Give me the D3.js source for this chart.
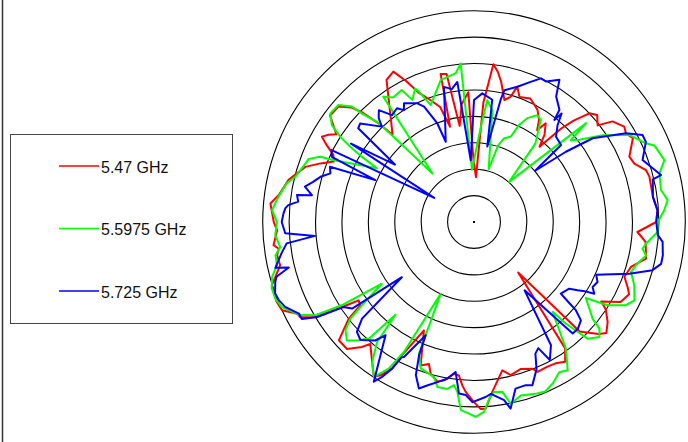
<!DOCTYPE html>
<html>
<head>
<meta charset="utf-8">
<script src="https://cdn.jsdelivr.net/npm/d3@7"></script>
<style>
  body { margin: 0; background: #fff; }
  svg { display: block; font-family: "Liberation Sans", Arial, sans-serif; }
</style>
</head>
<body>
<div id="chart"></div>
<script>
// legend / rings
const legendLabels = ["5.47 GHz", "5.5975 GHz", "5.725 GHz"];
const ringLevels = [-35, -30, -25, -20, -15, -10, -5, 0];

// 5.47 GHz : azimuth (deg, clockwise from top) and level (dB)
const redAngles = [
  2.5, 4.5, 7, 9, 11, 14, 16.3, 17.7, 20, 24.5,
  29.5, 32.5, 34.5, 36, 39, 41, 43, 44.5, 46.7, 49,
  52, 54, 57.6, 59.7, 62.2, 67.2, 70, 73.2, 75.5, 82,
  86.3, 90, 93.5, 96.6, 102, 106, 110, 113, 115, 118.6,
  122, 123.5, 126.8, 130, 132, 136, 138.8, 144.2, 146.9, 150,
  153.3, 157, 158.3, 162.3, 166.5, 169.2, 173.9, 176.4, 178, 180,
  182.8, 184.1, 185.6, 187.5, 190.7, 192.9, 195.9, 197.6, 200.4, 204.8,
  208.4, 209.2, 211.4, 212.9, 216, 220.4, 221.9, 225, 228.8, 232.3,
  233.8, 235.8, 237.2, 239, 241.3, 242.6, 245.3, 248, 252.6, 257.4,
  260.4, 262.2, 263.4, 267.6, 270, 275.2, 277.9, 282.8, 288.1, 290.9,
  293.3, 295.5, 297.9, 299.3, 301, 302.5, 306.5, 310.4, 313, 314.5,
  316, 317, 328.4, 331.8, 334.4, 337, 340.2, 343.6, 345.9, 347.3,
  349.5, 351.5, 354, 357.5, 359.5
];
const redDb = [
  -31.5, -17.3, -9.9, -11.2, -13, -16.2, -15.3, -13.1, -14.8, -14.3,
  -15.6, -17.1, -18.9, -16.9, -18.8, -21.1, -15.8, -13.1, -10, -9.1,
  -10.3, -7.6, -6.3, -6.7, -6, -8.1, -7.7, -6, -5.7, -5.8,
  -5.2, -5.5, -9, -7.3, -6.7, -9.1, -9.7, -8.4, -7.6, -8.4,
  -11.6, -10.1, -8.4, -7.3, -8.3, -11.2, -27.3, -10.5, -8.4, -9.1,
  -9.3, -9.2, -10.1, -10.8, -10.2, -11.4, -7.6, -4.6, -4.6, -5.9,
  -7.8, -9, -10.8, -11, -9.5, -9, -10.1, -11.8, -11, -17.4,
  -11.3, -8.2, -6, -5.1, -7.2, -9.7, -8.2, -6, -6, -10,
  -13.3, -13.6, -10.3, -5, -2.5, -2.3, 0, 0.3, 0.1, -2.4,
  -2.2, -2.7, -1.8, -2.7, -2.1, -1.3, -2.7, -4, -6.4, -8.9,
  -11.1, -10.5, -8.2, -7, -7.9, -9.1, -6.1, -6.3, -8.2, -10.5,
  -14.1, -17.4, -8.4, -7.7, -10.5, -13.5, -15.4, -17.3, -21.4, -11.3,
  -11.5, -21.6, -17.6, -15.4, -28.3
];

// 5.5975 GHz
const greenAngles = [
  4.3, 6.2, 9.3, 15.5, 17.5, 19.7, 23.3, 24.9, 27.2, 30.6,
  33.2, 38, 41.2, 48.6, 49.8, 52, 56, 60.7, 65.4, 67,
  72, 75.3, 80.3, 83.5, 86.4, 90, 93.1, 97.2, 99, 101,
  105, 107.7, 111.5, 116, 118.7, 121.9, 124.2, 129.2, 130.4, 132.5,
  135.7, 137.9, 138.8, 144, 147.7, 150.4, 154, 157.2, 159.8, 164.9,
  168.6, 170.5, 173.3, 175.1, 177, 179.5, 181.5, 184, 185.6, 187,
  189.1, 192.5, 194.5, 200, 202.7, 204.9, 208.3, 210.2, 212.9, 216,
  218.9, 220.3, 222, 224.3, 227, 229.9, 232, 233.4, 236.2, 237.8,
  239.5, 242.1, 246.1, 249, 251.9, 254.8, 257.6, 260.5, 262.6, 266.2,
  270, 273.4, 277.4, 281.7, 284.2, 289, 290.9, 293, 293.8, 299,
  300.2, 301.3, 302.5, 304.3, 307.1, 310.8, 313.4, 314.1, 315.9, 316.7,
  319.4, 324.1, 327, 331.3, 333.2, 336.2, 337.1, 339.7, 346.8, 353,
  355.2, 357.8
];
const greenDb = [
  -21.6, -16.8, -18.5, -29.6, -24.8, -23.2, -22.4, -19.7, -17.9, -16.5,
  -16.9, -21.1, -29.9, -11.7, -16, -14.7, -10.6, -6.3, -4.2, -2.9,
  -2.1, -3.7, -4.1, -3.1, -3.9, -5.2, -5.2, -7.2, -7.7, -6.8,
  -8.3, -8.8, -7.4, -6.2, -7.2, -10.2, -14.4, -11, -8.8, -7.8,
  -9.1, -14.1, -17.4, -10.4, -6.8, -7.3, -6, -5.2, -5.4, -6,
  -4.9, -7.4, -7.6, -6.4, -4, -3.1, -3.7, -4.3, -7.7, -8.9,
  -8, -8, -9.7, -10.5, -13, -25, -12.1, -7.9, -5.1, -7.2,
  -10.8, -17, -10.4, -8.7, -7.1, -8.2, -10.3, -13.6, -19, -10.5,
  -5.2, -2.5, -0.2, 0.3, 0.3, -0.4, -1.8, -1.9, -3, -2.3,
  -2.7, -1.7, -2.7, -3.8, -5.1, -6.2, -6.5, -8.4, -11, -19,
  -15.4, -12.6, -10, -7.4, -5.9, -6.1, -8.2, -10.5, -13.6, -17.8,
  -27.9, -10.7, -11.9, -11.5, -14.1, -12.4, -13.2, -16.4, -12.4, -11.6,
  -9.9, -30.1
];

// 5.725 GHz
const blueAngles = [
  0, 3.7, 8.5, 10, 12.3, 13, 17.8, 22, 25, 27.2,
  31, 33.2, 37.3, 38.2, 38.9, 40.8, 43.9, 48.5, 50, 52.6,
  54.8, 59.7, 62.7, 65, 69.8, 75.9, 76.6, 82, 86.3, 90,
  94.1, 96, 100, 102.6, 105.1, 108.4, 113.4, 115.9, 118.7, 120.8,
  122, 123.4, 125, 129.5, 130.2, 130.9, 132.6, 135.8, 138.5, 143.5,
  148, 151.2, 153, 155, 157, 160.3, 162.4, 166, 168.9, 170.4,
  174.4, 176.2, 180.5, 182.7, 185, 187, 189.7, 192.9, 196, 198.3,
  200.8, 202.4, 203.1, 207.4, 208.1, 209.2, 210.7, 212.1, 214.2, 218,
  219.8, 223.9, 226.8, 229.2, 232.6, 234.6, 236.9, 238.8, 240.6, 242.4,
  245.8, 248.2, 250.3, 253.2, 254.5, 256.2, 257, 260.8, 263.5, 265,
  266.6, 270, 272.6, 274.2, 275.2, 276.6, 278.7, 279.4, 281.8, 284,
  286.4, 288.7, 291, 293, 294.6, 296.8, 301.2, 302.5, 306, 309,
  310.9, 316, 317.5, 319.6, 322.5, 325.9, 327.9, 329.5, 334.5, 336.6,
  339.6, 340.6, 347.5, 350.5, 353.2, 357
];
const blueDb = [
  -16.9, -15.6, -16.6, -25.5, -16.3, -14.4, -13.1, -11.4, -10, -10.1,
  -8.6, -11.6, -13.3, -15.4, -13.6, -15.8, -17.6, -18, -24.9, -18.1,
  -12.5, -6.7, -4.1, -4.1, -6, -3.5, -5.2, -5.8, -5.2, -5.5,
  -5.1, -4.1, -3.7, -3.7, -5, -9, -14.8, -14, -14.4, -13.5,
  -15.3, -16.5, -18, -18.7, -16.9, -14.5, -12.5, -11.8, -11.8, -23.9,
  -12.5, -10.2, -13.2, -12.5, -9.7, -7.2, -7.6, -7.5, -4, -5.8,
  -7.3, -6.8, -5.9, -7.2, -7.4, -11.4, -9.9, -8.9, -7.8, -6.8,
  -9, -12.7, -16.7, -11.2, -11, -8.2, -5.9, -4.3, -7.9, -12.8,
  -10.8, -9, -9.6, -12, -22.8, -11.7, -10.5, -5.3, -2.6, -2.6,
  -0.8, -0.2, 0, -0.7, -1.2, -3.9, -1.4, -3.1, -4.3, -9.8,
  -4.2, -3.6, -3.9, -4.2, -4.7, -6.5, -6.1, -8.9, -7.3, -8.6,
  -9.7, -11.3, -10.8, -19.7, -10.4, -9.8, -31.2, -12.4, -21.5, -11.8,
  -11.5, -14.9, -13.3, -12.2, -14.5, -14, -15, -13.9, -15.1, -16.2,
  -20.1, -23.9, -13.8, -14.5, -13.3, -28.3
];

const series = [
  { name: legendLabels[0], color: "#ff0000", angles: redAngles, values: redDb },
  { name: legendLabels[1], color: "#00ff00", angles: greenAngles, values: greenDb },
  { name: legendLabels[2], color: "#0000ff", angles: blueAngles, values: blueDb }
];

const width = 688, height = 442;
const cx = 474, cy = 222, outerR = 211.3;

const svg = d3.select("#chart").append("svg")
    .attr("width", width)
    .attr("height", height);

// left frame edge
svg.append("line")
    .attr("x1", 2.5).attr("x2", 2.5)
    .attr("y1", 0).attr("y2", height)
    .attr("stroke", "#333").attr("stroke-width", 1.5);

const r = d3.scaleLinear().domain([-40, 0]).range([0, outerR]);

const plot = svg.append("g")
    .attr("transform", "translate(" + cx + "," + cy + ")");

plot.selectAll("circle.ring")
    .data(ringLevels)
    .enter().append("circle")
        .attr("class", "ring")
        .attr("r", d => r(d))
        .attr("fill", "none")
        .attr("stroke", "#000")
        .attr("stroke-width", 1.1);

plot.append("rect")
    .attr("x", -1).attr("y", -1)
    .attr("width", 2).attr("height", 2)
    .attr("fill", "#000");

const line = d3.lineRadial()
    .angle(d => d[0] * Math.PI / 180)
    .radius(d => r(d[1]))
    .curve(d3.curveLinearClosed);

series.forEach(s => {
    const pts = s.angles.map((a, i) => [a, s.values[i]]);
    plot.append("path")
        .datum(pts)
        .attr("fill", "none")
        .attr("stroke", s.color)
        .attr("stroke-width", 2)
        .attr("stroke-linejoin", "round")
        .attr("d", line);
});

// legend
const legend = svg.append("g");
legend.append("rect")
    .attr("x", 10.5).attr("y", 134.5)
    .attr("width", 222).attr("height", 189)
    .attr("fill", "#fff")
    .attr("stroke", "#444")
    .attr("stroke-width", 1);

const legendY = d3.scalePoint().domain(legendLabels).range([166, 291]);

legend.selectAll("line.key")
    .data(series)
    .enter().append("line")
        .attr("class", "key")
        .attr("x1", 59).attr("x2", 99)
        .attr("y1", d => legendY(d.name)).attr("y2", d => legendY(d.name))
        .attr("stroke", d => d.color)
        .attr("stroke-width", 1.5);

legend.selectAll("text")
    .data(series)
    .enter().append("text")
        .attr("x", 101)
        .attr("y", d => legendY(d.name) + 6.5)
        .attr("font-size", 16)
        .attr("fill", "#111")
        .text(d => d.name);
</script>
</body>
</html>
